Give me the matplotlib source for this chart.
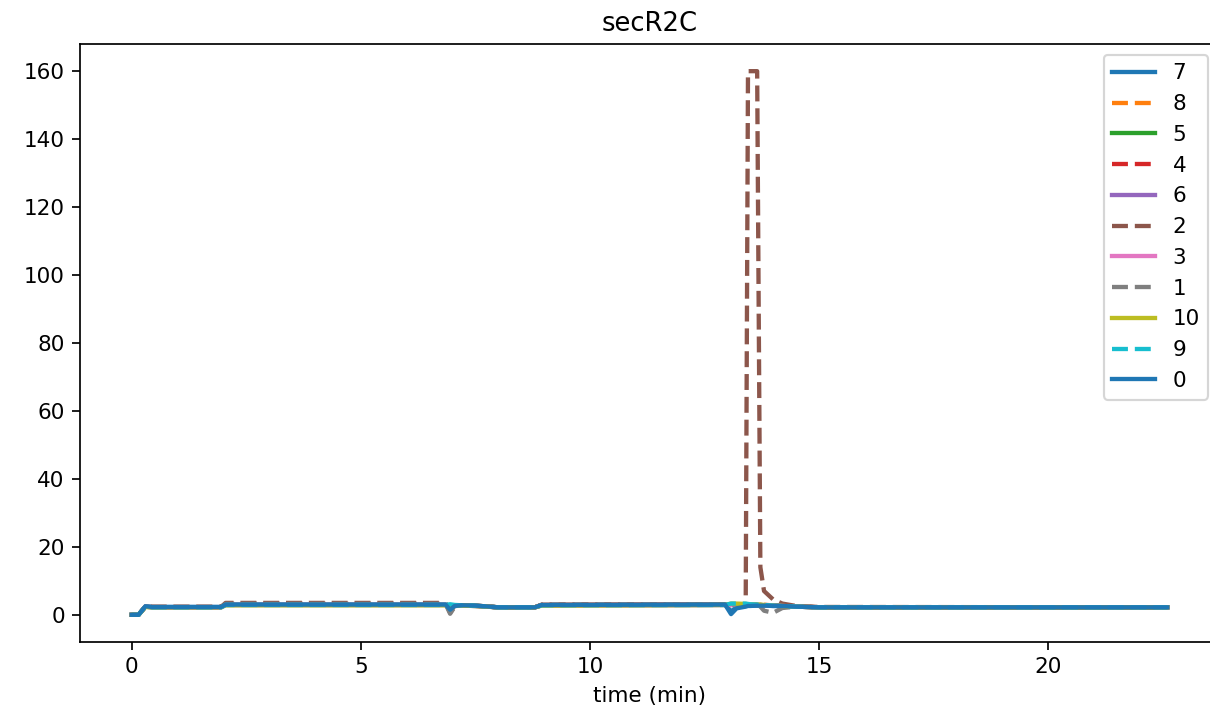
import matplotlib
matplotlib.use("Agg")
from matplotlib import pyplot as plt

# shared time grid (min)
time_min = [0, 0.15, 0.3, 0.45, 1.95, 2.05, 6.85, 6.95, 7.05, 7.2, 7.5, 8.0,
            8.8, 8.95, 12.95, 13.08, 13.2, 13.4, 13.45, 13.5, 13.65, 13.72,
            13.8, 14.0, 14.2, 14.5, 15.0, 22.6]

labels = ["7", "8", "5", "4", "6", "2", "3", "1", "10", "9", "0"]
styles = ["-", "--", "-", "--", "-", "--", "-", "--", "-", "--", "-"]

s7 = [0, 0, 2.5, 2.3, 2.3, 3.0, 3.0, 1.8, 2.6, 2.8, 2.7, 2.2, 2.2, 2.9, 3.0,
      1.0, 2.2, 2.6, 2.7, 2.7, 2.7, 2.7, 2.7, 2.6, 2.6, 2.4, 2.2, 2.2]
s8 = [0, 0, 2.4, 2.3, 2.3, 3.1, 3.1, 2.0, 2.6, 2.8, 2.7, 2.2, 2.2, 2.9, 3.0,
      3.0, 3.0, 3.0, 3.0, 3.0, 3.0, 3.0, 2.9, 2.8, 2.7, 2.5, 2.2, 2.2]
s5 = [0, 0, 2.4, 2.2, 2.2, 2.9, 2.9, 2.2, 2.6, 2.7, 2.6, 2.2, 2.2, 2.8, 2.9,
      2.9, 2.9, 2.9, 2.9, 2.9, 2.9, 2.9, 2.8, 2.7, 2.6, 2.4, 2.2, 2.2]
s4 = [0, 0, 2.4, 2.3, 2.3, 3.2, 3.2, 2.3, 2.7, 2.8, 2.7, 2.2, 2.2, 2.9, 3.0,
      3.0, 3.0, 3.0, 3.0, 3.0, 3.0, 3.0, 2.9, 2.8, 2.7, 2.5, 2.2, 2.2]
s6 = [0, 0, 2.4, 2.2, 2.2, 2.9, 2.9, 2.4, 2.6, 2.7, 2.6, 2.2, 2.2, 2.8, 2.9,
      2.9, 2.9, 2.9, 2.9, 2.9, 2.9, 2.9, 2.8, 2.7, 2.6, 2.4, 2.2, 2.2]
s2 = [0, 0, 2.4, 2.3, 2.3, 3.5, 3.5, 0.6, 2.5, 2.8, 2.7, 2.2, 2.2, 3.0, 3.0,
      3.0, 3.0, 3.0, 160, 160, 160, 14, 7, 4.5, 3.3, 2.6, 2.3, 2.2]
s3 = [0, 0, 2.4, 2.2, 2.2, 2.9, 2.9, 2.4, 2.6, 2.7, 2.6, 2.2, 2.2, 2.8, 2.9,
      2.9, 2.9, 2.9, 2.9, 2.9, 2.9, 2.9, 2.8, 2.7, 2.6, 2.4, 2.2, 2.2]
s1 = [0, 0, 2.4, 2.3, 2.3, 3.2, 3.2, 0.3, 2.4, 2.8, 2.7, 2.2, 2.2, 2.9, 3.0,
      3.0, 3.0, 3.0, 3.0, 3.0, 3.0, 2.4, 1.2, 0.6, 2.0, 2.4, 2.2, 2.2]
s10 = [0, 0, 2.3, 2.2, 2.2, 2.8, 2.8, 2.5, 2.6, 2.7, 2.6, 2.2, 2.2, 2.7, 2.9,
       3.3, 3.3, 3.2, 3.1, 3.0, 3.0, 3.0, 2.9, 2.7, 2.6, 2.4, 2.2, 2.2]
s9 = [0, 0, 2.4, 2.2, 2.2, 2.9, 2.9, 3.1, 2.9, 2.8, 2.7, 2.2, 2.2, 2.8, 2.9,
      3.3, 3.3, 3.3, 3.2, 3.1, 3.0, 3.0, 2.9, 2.7, 2.6, 2.4, 2.2, 2.2]
s0 = [0, 0, 2.5, 2.3, 2.3, 3.0, 3.0, 1.5, 2.6, 2.8, 2.7, 2.2, 2.2, 2.9, 3.0,
      0.2, 1.9, 2.4, 2.6, 2.6, 2.7, 2.7, 2.7, 2.6, 2.6, 2.4, 2.2, 2.2]

series = [s7, s8, s5, s4, s6, s2, s3, s1, s10, s9, s0]

plt.rcParams["lines.linewidth"] = 2

dpi = 155
fig = plt.figure(figsize=(1210 / dpi, 721 / dpi), dpi=dpi)
ax = fig.add_subplot(1, 1, 1)
# the original was cropped on the right, so the axes run past the edge
fig.subplots_adjust(left=0.066, right=1.0075, top=0.939, bottom=0.1096)

for vals, lab, ls in zip(series, labels, styles):
    ax.plot(time_min, vals, ls, label=lab)

ax.set_xlabel("time (min)")
ax.set_title("secR2C")
ax.legend(loc="upper right")

fig.savefig("out.png", dpi=dpi)
